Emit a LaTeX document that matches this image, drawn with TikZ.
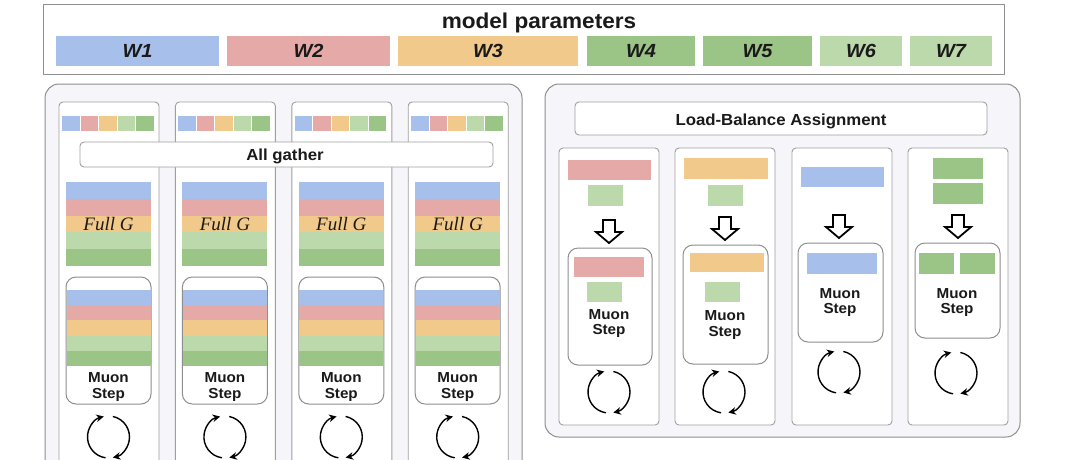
\documentclass[tikz,border=0pt]{standalone}
\usepackage{fontspec}
\setmainfont[FakeStretch=1.05]{Liberation Sans}
\newfontfamily\gfont{Liberation Serif}
\usetikzlibrary{arrows.meta}

\definecolor{wblue}{HTML}{A7BFEB}
\definecolor{wpink}{HTML}{E5A9A7}
\definecolor{wyell}{HTML}{F1C98A}
\definecolor{wdgrn}{HTML}{9BC587}
\definecolor{wlgrn}{HTML}{BBD9AA}
\definecolor{panelbg}{HTML}{F6F5FA}
\definecolor{edge}{HTML}{8E8E8E}
\definecolor{ink}{HTML}{1A1A1A}

\tikzset{
  panel/.style={draw=edge, line width=1pt, fill=panelbg, rounded corners=14pt},
  lane/.style={draw=edge!85, line width=0.9pt, fill=white, rounded corners=4pt},
  band/.style={draw=edge!85, line width=0.9pt, fill=white, rounded corners=4pt},
  stepbox/.style={draw=edge, line width=1pt, fill=white, rounded corners=10pt},
  wbar/.style={minimum height=30, inner sep=0, text=ink,
    font=\bfseries\itshape\fontsize{19}{21}\selectfont},
  title/.style={text=ink, inner sep=0, anchor=base},
  muon/.style={text=ink, inner sep=0, align=center,
    font=\bfseries\fontsize{14.5}{15.5}\selectfont},
  fullg/.style={text=ink, inner sep=0, anchor=base,
    font=\gfont\itshape\fontsize{19}{22}\selectfont},
  cyc/.style={line width=1.4pt, line cap=butt, -{Stealth[length=7.5pt,width=7.5pt]}},
  harrow/.style={draw=black, line width=1.8pt, fill=white, line join=miter},
  loopicon/.pic={
    \draw[cyc] (262:21) arc[start angle=262, end angle=103, radius=21];
    \draw[cyc] (78:21) arc[start angle=78, end angle=-78, radius=21];
  }
}

% hollow arrow pointing down: centre x, top y
\newcommand{\dnarrow}[2]{%
  \draw[harrow] (#1-6,-#2) -- (#1+6,-#2) -- (#1+6,-#2-12) -- (#1+13,-#2-12)
    -- (#1,-#2-23) -- (#1-13,-#2-12) -- (#1-6,-#2-12) -- cycle;}

\begin{document}
\begin{tikzpicture}[x=1pt,y=1pt,line join=round]
  \useasboundingbox (0,0) rectangle (1080,-459);
  \clip (0,0) rectangle (1080,-459);
  \fill[white] (0,0) rectangle (1080,-459);

  % model parameters
  \draw[edge, line width=1pt] (43,-4) rectangle (1004,-74);
  \node[title, font=\bfseries\fontsize{21.5}{24}\selectfont] (mp) at (539,-28) {model parameters};
  \foreach \a/\b/\c/\t in {56/219/wblue/W1, 227/390/wpink/W2, 398/578/wyell/W3,
      587/695/wdgrn/W4, 703/812/wdgrn/W5, 820/902/wlgrn/W6, 910/992/wlgrn/W7}
    \node[wbar, fill=\c, minimum width=\b-\a] (\t) at ({(\a+\b)/2},-51) {\t};

  % left: all gather
  \draw[panel] (45,-84) rectangle (522,-480);
  \foreach \i in {0,...,3}{
    \pgfmathsetmacro{\x}{59+116.4*\i}
    \draw[lane] (\x,-102) rectangle ++(100,-380);
    \foreach \c [count=\k from 0] in {wblue,wpink,wyell,wlgrn,wdgrn}
      \fill[\c] (\x+3+18.5*\k,-116) rectangle ++(17.5,-15);
    \foreach \c [count=\k from 0] in {wblue,wpink,wyell,wlgrn,wdgrn}
      \fill[\c] (\x+7,-182-16.8*\k) rectangle ++(85,-16.8);
    \node[fullg] (g\i) at (\x+49.5,-230) {Full G};
    \draw[stepbox] (\x+7,-277) rectangle ++(85,-127);
    \foreach \c [count=\k from 0] in {wblue,wpink,wyell,wlgrn,wdgrn}
      \fill[\c] (\x+7.5,-290-15.2*\k) rectangle ++(84,-15.2);
    \node[muon] (m\i) at (\x+49.5,-387) {Muon\\Step};
    \pic (c\i) at (\x+49.5,-437) {loopicon};
  }
  \draw[band] (80,-142) rectangle (493,-167);
  \node[title, font=\bfseries\fontsize{16}{18}\selectfont] (ag) at (285,-160) {All gather};

  % right: load balance
  \draw[panel] (545,-84) rectangle (1020,-437);
  \draw[band] (575,-102) rectangle (987,-135);
  \node[title, font=\bfseries\fontsize{16}{18}\selectfont] (lb) at (781,-125) {Load-Balance Assignment};
  \foreach \x in {559,675,792,908}
    \draw[lane] (\x,-148) rectangle ++(100,-277);

  % lane 1
  \fill[wpink] (568,-160) rectangle (651,-180);
  \fill[wlgrn] (588,-185) rectangle (623,-206);
  \dnarrow{609}{220}
  \draw[stepbox] (568,-248) rectangle (652,-365);
  \fill[wpink] (574,-257) rectangle (644,-277);
  \fill[wlgrn] (587,-282) rectangle (622,-302);
  \node[muon] (r1) at (609,-323.5) {Muon\\Step};
  \pic (q1) at (609,-392) {loopicon};

  % lane 2
  \fill[wyell] (684,-158) rectangle (768,-179);
  \fill[wlgrn] (708,-185) rectangle (743,-206);
  \dnarrow{725}{217}
  \draw[stepbox] (683,-245) rectangle (768,-364);
  \fill[wyell] (690,-253) rectangle (764,-272);
  \fill[wlgrn] (705,-282) rectangle (740,-302);
  \node[muon] (r2) at (725,-325) {Muon\\Step};
  \pic (q2) at (724,-392) {loopicon};

  % lane 3
  \fill[wblue] (801,-167) rectangle (884,-187);
  \dnarrow{839}{215}
  \draw[stepbox] (798,-243) rectangle (883,-342);
  \fill[wblue] (807,-253) rectangle (877,-274);
  \node[muon] (r3) at (840,-302.5) {Muon\\Step};
  \pic (q3) at (839,-372) {loopicon};

  % lane 4
  \fill[wdgrn] (933,-158) rectangle (983,-179);
  \fill[wdgrn] (933,-183) rectangle (983,-204);
  \dnarrow{958}{215}
  \draw[stepbox] (915,-243) rectangle (1000,-338);
  \fill[wdgrn] (919,-253) rectangle (954,-274);
  \fill[wdgrn] (960,-253) rectangle (995,-274);
  \node[muon] (r4) at (957,-302.5) {Muon\\Step};
  \pic (q4) at (956,-373) {loopicon};
\end{tikzpicture}
\end{document}
